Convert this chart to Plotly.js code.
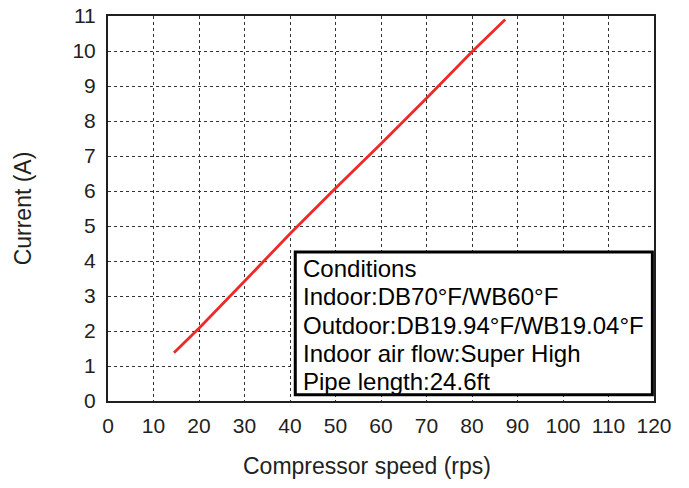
<!DOCTYPE html>
<html>
<head>
<meta charset="utf-8">
<script src="https://cdn.plot.ly/plotly-3.0.1.min.js"></script>
<style>html,body{margin:0;padding:0;background:#fff;}#chart{width:689px;height:488px;}</style>
</head>
<body>
<div id="chart"></div>
<script>
const speed = [14.5, 20, 30, 40, 50, 60, 70, 80, 87.3];
const current = [1.38, 2.08, 3.42, 4.78, 6.08, 7.35, 8.65, 9.98, 10.9];
const xTicks = [0,10,20,30,40,50,60,70,80,90,100,110,120];
const yTicks = [0,1,2,3,4,5,6,7,8,9,10,11];
const xTitle = 'Compressor speed (rps)';
const yTitle = 'Current (A)';
const conditionLines = [
  "Conditions",
  "Indoor:DB70°F/WB60°F",
  "Outdoor:DB19.94°F/WB19.04°F",
  "Indoor air flow:Super High",
  "Pipe length:24.6ft"
];

const ink = '#231f20';
const fontFam = 'Liberation Sans, Arial, sans-serif';

const lineY = [0.345, 0.271, 0.197, 0.123, 0.050];
const annotations = conditionLines.map((t, i) => ({
  text: t, xref: 'paper', yref: 'paper', x: 0.353, y: lineY[i],
  xanchor: 'left', yanchor: 'middle', showarrow: false,
  font: {family: fontFam, size: 24, color: '#000'}
}));
annotations.push({
  text: xTitle, xref: 'paper', yref: 'paper', x: 0.474, y: -0.169,
  xanchor: 'center', yanchor: 'middle', showarrow: false,
  font: {family: fontFam, size: 23, color: ink}
});

const layout = {
  width: 689, height: 488,
  margin: {l: 108, r: 35, t: 16, b: 87},
  paper_bgcolor: '#fff', plot_bgcolor: '#fff',
  showlegend: false,
  xaxis: {
    range: [0, 120], tickvals: xTicks, ticktext: xTicks.map(String),
    showgrid: true, gridcolor: '#333', griddash: 'dot', gridwidth: 1,
    zeroline: false, showline: true, mirror: true, linecolor: ink, linewidth: 2,
    ticks: 'outside', ticklen: 5, tickcolor: 'rgba(0,0,0,0)',
    tickfont: {family: fontFam, size: 21, color: ink},
    fixedrange: true
  },
  yaxis: {
    range: [0, 11], tickvals: yTicks, ticktext: yTicks.map(String),
    showgrid: true, gridcolor: '#333', griddash: 'dot', gridwidth: 1,
    zeroline: false, showline: true, mirror: true, linecolor: ink, linewidth: 2,
    ticks: 'outside', ticklen: 6, tickcolor: 'rgba(0,0,0,0)',
    tickfont: {family: fontFam, size: 21, color: ink},
    title: {text: yTitle, font: {family: fontFam, size: 23, color: ink}, standoff: 34},
    fixedrange: true
  },
  shapes: [{
    type: 'rect', xref: 'paper', yref: 'paper',
    x0: 0.343, x1: 0.997, y0: 0.016, y1: 0.387,
    line: {color: '#000', width: 3}, fillcolor: '#fff', layer: 'above'
  }],
  annotations: annotations
};

Plotly.newPlot('chart', [{
  x: speed, y: current, type: 'scatter', mode: 'lines',
  line: {color: '#f02828', width: 2.8}, hoverinfo: 'skip'
}], layout, {displayModeBar: false, staticPlot: true});
</script>
</body>
</html>
